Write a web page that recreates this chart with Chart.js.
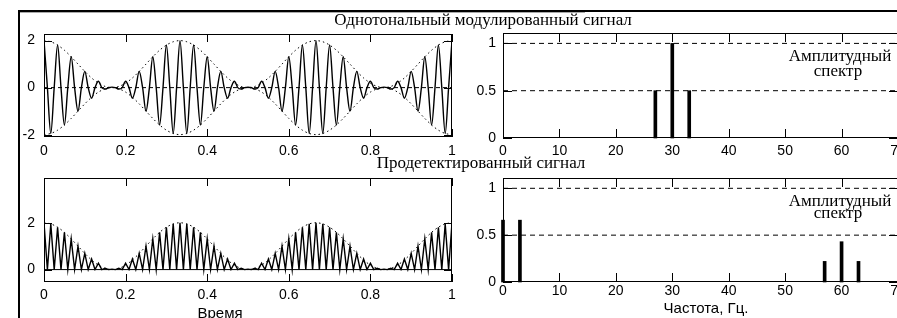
<!DOCTYPE html>
<html>
<head>
<meta charset="utf-8">
<script src="https://cdn.jsdelivr.net/npm/chart.js@4.4.1/dist/chart.umd.min.js"></script>
<style>
  html, body { margin: 0; padding: 0; background: #fff; }
  body { width: 897px; height: 318px; overflow: hidden; position: relative; }
  canvas { position: absolute; }
  .rule { position: absolute; background: #000; }
  .serif { position: absolute; font-family: 'Liberation Serif', 'Times New Roman', serif; font-size: 17px; line-height: 17px; white-space: nowrap; transform: translateX(-50%); color: #000; }
  .sans { position: absolute; font-family: 'Liberation Sans', Arial, sans-serif; font-size: 15px; line-height: 15px; white-space: nowrap; transform: translateX(-50%); color: #000; }
</style>
</head>
<body>
<div class="rule" style="left:18px; top:10px; width:900px; height:2px"></div>
<div class="rule" style="left:18px; top:10px; width:2px; height:320px"></div>
<div class="rule" style="left:20px; top:12px; width:565px; height:1px; background:#aaa"></div>

<canvas id="amWave" width="462" height="140" style="left:0; top:24px"></canvas>
<canvas id="amSpectrum" width="457" height="140" style="left:452px; top:23px"></canvas>
<canvas id="detWave" width="462" height="140" style="left:0; top:168px"></canvas>
<canvas id="detSpectrum" width="457" height="140" style="left:452px; top:168px"></canvas>

<div class="serif" style="left:483px; top:11px">Однотональный модулированный сигнал</div>
<div class="serif" style="left:481px; top:154px">Продетектированный сигнал</div>
<div class="serif" style="left:840px; top:47px">Амплитудный</div>
<div class="serif" style="left:838px; top:62px">спектр</div>
<div class="serif" style="left:840px; top:192px">Амплитудный</div>
<div class="serif" style="left:838px; top:204px">спектр</div>
<div class="sans" style="left:220px; top:305px">Время</div>
<div class="sans" style="left:706px; top:300px">Частота, Гц.</div>

<script>
// axis ticks and limits
const timeTicks = [0, 0.2, 0.4, 0.6, 0.8, 1];
const freqTicks = [0, 10, 20, 30, 40, 50, 60, 70];
const amTicks = [-2, 0, 2];
const detTicks = [0, 2];
const specTicks = [0, 0.5, 1];
const amRange = [-2.1, 2.28];
const detRange = [-0.53, 3.91];
const specRange = [0, 1.11];
const refLevels = [0.5, 1];

// sample spacing of the waveforms (s)
const waveStep = 1 / 120;
const envStep = 1 / 60;

// AM signal, carrier 30 Hz, tone 3 Hz
const amSignal = [
  2, 0, -1.95, 0, 1.81, 0, -1.59, 0, 1.31, 0, -1, 0, 0.69, 0, -0.45, 0, 0.27, 0, -0.06, 0,
  0.02, 0, -0.06, 0, 0.27, 0, -0.45, 0, 0.69, 0, -1, 0, 1.31, 0, -1.59, 0, 1.81, 0, -1.95, 0,
  2, 0, -1.95, 0, 1.81, 0, -1.59, 0, 1.31, 0, -1, 0, 0.69, 0, -0.45, 0, 0.27, 0, -0.06, 0,
  0.02, 0, -0.06, 0, 0.27, 0, -0.45, 0, 0.69, 0, -1, 0, 1.31, 0, -1.59, 0, 1.81, 0, -1.95, 0,
  2, 0, -1.95, 0, 1.81, 0, -1.59, 0, 1.31, 0, -1, 0, 0.69, 0, -0.45, 0, 0.27, 0, -0.06, 0,
  0.02, 0, -0.06, 0, 0.27, 0, -0.45, 0, 0.69, 0, -1, 0, 1.31, 0, -1.59, 0, 1.81, 0, -1.95, 0,
  2
];

// detected (rectified) signal
const detSignal = [
  2, 0, 1.95, 0, 1.81, 0, 1.59, 0, 1.31, 0, 1, 0, 0.69, 0, 0.45, 0, 0.27, 0, 0.06, 0,
  0.02, 0, 0.06, 0, 0.27, 0, 0.45, 0, 0.69, 0, 1, 0, 1.31, 0, 1.59, 0, 1.81, 0, 1.95, 0,
  2, 0, 1.95, 0, 1.81, 0, 1.59, 0, 1.31, 0, 1, 0, 0.69, 0, 0.45, 0, 0.27, 0, 0.06, 0,
  0.02, 0, 0.06, 0, 0.27, 0, 0.45, 0, 0.69, 0, 1, 0, 1.31, 0, 1.59, 0, 1.81, 0, 1.95, 0,
  2, 0, 1.95, 0, 1.81, 0, 1.59, 0, 1.31, 0, 1, 0, 0.69, 0, 0.45, 0, 0.27, 0, 0.06, 0,
  0.02, 0, 0.06, 0, 0.27, 0, 0.45, 0, 0.69, 0, 1, 0, 1.31, 0, 1.59, 0, 1.81, 0, 1.95, 0,
  2
];

// envelope (dotted)
const envUpper = [
  2, 1.95, 1.81, 1.59, 1.31, 1, 0.69, 0.41, 0.19, 0.05,
  0, 0.05, 0.19, 0.41, 0.69, 1, 1.31, 1.59, 1.81, 1.95,
  2, 1.95, 1.81, 1.59, 1.31, 1, 0.69, 0.41, 0.19, 0.05,
  0, 0.05, 0.19, 0.41, 0.69, 1, 1.31, 1.59, 1.81, 1.95,
  2, 1.95, 1.81, 1.59, 1.31, 1, 0.69, 0.41, 0.19, 0.05,
  0, 0.05, 0.19, 0.41, 0.69, 1, 1.31, 1.59, 1.81, 1.95,
  2
];
const envLower = [
  -2, -1.95, -1.81, -1.59, -1.31, -1, -0.69, -0.41, -0.19, -0.05,
  0, -0.05, -0.19, -0.41, -0.69, -1, -1.31, -1.59, -1.81, -1.95,
  -2, -1.95, -1.81, -1.59, -1.31, -1, -0.69, -0.41, -0.19, -0.05,
  0, -0.05, -0.19, -0.41, -0.69, -1, -1.31, -1.59, -1.81, -1.95,
  -2, -1.95, -1.81, -1.59, -1.31, -1, -0.69, -0.41, -0.19, -0.05,
  0, -0.05, -0.19, -0.41, -0.69, -1, -1.31, -1.59, -1.81, -1.95,
  -2
];

// amplitude spectra
const amFreqs = [27, 30, 33];
const amAmps = [0.5, 1, 0.5];
const detFreqs = [0, 3, 57, 60, 63];
const detAmps = [0.66, 0.66, 0.22, 0.43, 0.22];

Chart.defaults.font.family = "'Liberation Sans', Arial, sans-serif";
Chart.defaults.font.size = 14;
Chart.defaults.color = '#000';

const toPoints = (values, step) => values.map((v, i) => ({ x: i * step, y: v }));
const pairPoints = (xs, ys) => xs.map((x, i) => ({ x: x, y: ys[i] }));
const lineAcross = (ticks, level) => [{ x: ticks[0], y: level }, { x: ticks[ticks.length - 1], y: level }];

// matlab-like box with inward ticks, drawn as 1px rects
function boxAxes(len, xTicks, yTicks) {
  return {
    id: 'boxAxes',
    afterDraw(chart) {
      const { ctx, chartArea: a, scales } = chart;
      const l = Math.round(a.left), r = Math.round(a.right);
      const t = Math.round(a.top), b = Math.round(a.bottom);
      ctx.save();
      ctx.fillStyle = '#000';
      ctx.fillRect(l, t, r - l, 1);
      ctx.fillRect(l, b - 1, r - l, 1);
      ctx.fillRect(l, t, 1, b - t);
      ctx.fillRect(r - 1, t, 1, b - t);
      xTicks.forEach(v => {
        const px = Math.round(scales.x.getPixelForValue(v));
        ctx.fillRect(px, b - len, 1, len);
        ctx.fillRect(px, t, 1, len);
      });
      yTicks.forEach(v => {
        const py = Math.round(scales.y.getPixelForValue(v));
        ctx.fillRect(l, py, len, 1);
        ctx.fillRect(r - len, py, len, 1);
      });
      ctx.restore();
    }
  };
}

const plainLabel = v => String(v);

function xAxis(ticks, pad, height) {
  return {
    type: 'linear', min: ticks[0], max: ticks[ticks.length - 1], offset: false,
    grid: { display: false, drawTicks: false, offset: false }, border: { display: false },
    ticks: { padding: pad, autoSkip: false, maxRotation: 0, callback: plainLabel },
    afterBuildTicks: s => { s.ticks = ticks.map(v => ({ value: v })); },
    afterFit: s => { s.height = height; s.paddingLeft = 0; s.paddingRight = 0; }
  };
}
function yAxis(ticks, range, pad, width) {
  return {
    type: 'linear', min: range[0], max: range[1],
    grid: { display: false, drawTicks: false }, border: { display: false },
    ticks: { padding: pad, autoSkip: false, callback: plainLabel },
    afterBuildTicks: s => { s.ticks = ticks.map(v => ({ value: v })); },
    afterFit: s => { s.width = width; s.paddingTop = 0; s.paddingBottom = 0; }
  };
}

const common = {
  responsive: false, animation: false, devicePixelRatio: 1,
  plugins: { legend: { display: false }, tooltip: { enabled: false } },
  elements: { point: { radius: 0 } }
};

const dotted = { borderColor: '#000', borderWidth: 1, borderDash: [1.5, 3], tension: 0.3, order: 2 };

new Chart(document.getElementById('amWave'), {
  type: 'line',
  data: {
    datasets: [
      { data: toPoints(amSignal, waveStep), borderColor: '#000', borderWidth: 1.4, cubicInterpolationMode: 'monotone', order: 0 },
      Object.assign({ data: toPoints(envUpper, envStep) }, dotted),
      Object.assign({ data: toPoints(envLower, envStep) }, dotted),
      { data: lineAcross(timeTicks, 0), borderColor: '#000', borderWidth: 1, borderDash: [4, 3], order: 3 }
    ]
  },
  options: Object.assign({}, common, {
    layout: { padding: { top: 10, right: 10, left: 0, bottom: 0 } },
    scales: { x: xAxis(timeTicks, 6, 27), y: yAxis(amTicks, amRange, 9, 44) }
  }),
  plugins: [boxAxes(8, timeTicks, amTicks)]
});

new Chart(document.getElementById('detWave'), {
  type: 'line',
  data: {
    datasets: [
      { data: toPoints(detSignal, waveStep), borderColor: '#000', borderWidth: 1.4, tension: 0, order: 0 },
      Object.assign({ data: toPoints(envUpper, envStep) }, dotted),
      { data: lineAcross(timeTicks, 0), borderColor: '#000', borderWidth: 1, order: 3 }
    ]
  },
  options: Object.assign({}, common, {
    layout: { padding: { top: 10, right: 10, left: 0, bottom: 0 } },
    scales: { x: xAxis(timeTicks, 5, 26), y: yAxis(detTicks, detRange, 9, 44) }
  }),
  plugins: [boxAxes(8, timeTicks, detTicks)]
});

function spectrumChart(id, freqs, amps, pad, xHeight) {
  const datasets = [
    { type: 'bar', data: pairPoints(freqs, amps), backgroundColor: '#000', barThickness: 3, clip: false, order: 0 }
  ];
  refLevels.forEach(level => {
    datasets.push({ type: 'line', data: lineAcross(freqTicks, level), borderColor: '#000', borderWidth: 1, borderDash: [5, 4], order: 1 });
  });
  return new Chart(document.getElementById(id), {
    type: 'bar',
    data: { datasets: datasets },
    options: Object.assign({}, common, {
      layout: { padding: { top: 10, right: 11, left: 0, bottom: 0 } },
      scales: { x: xAxis(freqTicks, pad, xHeight), y: yAxis(specTicks, specRange, 7, 51) }
    }),
    plugins: [boxAxes(9, freqTicks, specTicks)]
  });
}

spectrumChart('amSpectrum', amFreqs, amAmps, 5, 25);
spectrumChart('detSpectrum', detFreqs, detAmps, 1, 26);
</script>
</body>
</html>
